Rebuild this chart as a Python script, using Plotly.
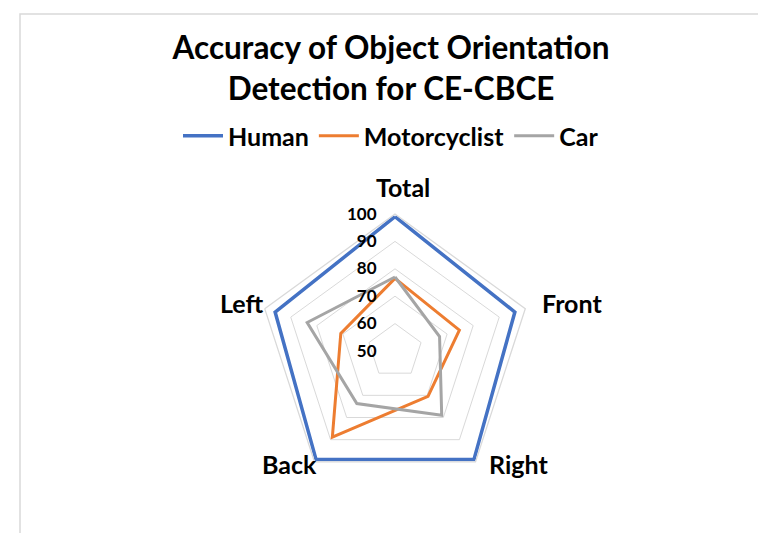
import math
import plotly.graph_objects as go

categories = ["Total", "Front", "Right", "Back", "Left"]
human = [99, 96, 99, 99, 96]
motorcyclist = [76.5, 74.7, 70.5, 88.9, 70.8]
car = [77, 67.1, 79, 73.7, 83.7]
radial_ticks = [50, 60, 70, 80, 90, 100]

series = [("Human", human, "#4472C4", 3.5),
          ("Motorcyclist", motorcyclist, "#ED7D31", 3),
          ("Car", car, "#A5A5A5", 3)]

FONT = "Lato, Carlito, Calibri, sans-serif"

fig = go.Figure()
for name, vals, color, w in series:
    fig.add_trace(go.Scatterpolar(
        r=vals + vals[:1], theta=categories + categories[:1],
        mode="lines", name=name,
        line=dict(color=color, width=w),
    ))

W, H = 766, 533
# target geometry (pixels) of the radar in the picture
cx, cy, R = 395, 349, 137
# empirical correction of plotly's placement of the polar domain
dx, dy = -8, -6
pcx, pcy = cx + dx, cy + dy

# category labels placed next to the outer polygon corners
label_specs = {0: dict(xanchor="center", yanchor="bottom", ox=0, oy=-16),
               1: dict(xanchor="left", yanchor="middle", ox=7, oy=-12),
               2: dict(xanchor="left", yanchor="middle", ox=3, oy=-4),
               3: dict(xanchor="right", yanchor="middle", ox=-3, oy=-4),
               4: dict(xanchor="right", yanchor="middle", ox=-7, oy=-12)}
annotations = []
n = len(categories)
for i, cat in enumerate(categories):
    th = 2 * math.pi * i / n
    vx = cx + R * math.sin(th)
    vy = cy - R * math.cos(th)
    s = label_specs[i]
    annotations.append(dict(
        text="<b>%s</b>" % cat, showarrow=False, xref="paper", yref="paper",
        x=(vx + s["ox"]) / W, y=1 - (vy + s["oy"]) / H,
        xanchor=s["xanchor"], yanchor=s["yanchor"],
        font=dict(size=25, family=FONT, color="black")))

fig.update_layout(
    width=W, height=H,
    margin=dict(l=0, r=0, t=0, b=0),
    paper_bgcolor="white",
    font=dict(family=FONT, color="black"),
    title=dict(text="<b>Accuracy of Object Orientation<br>Detection for CE-CBCE</b>",
               x=0.5, xanchor="center", y=1 - 51 / H, yanchor="middle",
               font=dict(size=31.5, family=FONT, color="black")),
    showlegend=True,
    legend=dict(orientation="h", x=0.5, xanchor="center",
                y=1 - 128 / H, yanchor="middle",
                font=dict(size=25, family=FONT, color="black", weight="bold"),
                itemwidth=40, bgcolor="rgba(0,0,0,0)"),
    polar=dict(
        domain=dict(x=[(pcx - R) / W, (pcx + R) / W],
                    y=[(H - pcy - R) / H, (H - pcy + R) / H]),
        bgcolor="white",
        gridshape="linear",
        radialaxis=dict(range=[50, 100], tickvals=radial_ticks,
                        angle=90, tickangle=90, side="counterclockwise",
                        showline=False, ticks="outside", ticklen=12,
                        tickcolor="rgba(0,0,0,0)",
                        gridcolor="#D9D9D9", gridwidth=1.3,
                        tickfont=dict(size=17, family=FONT, color="black", weight="bold")),
        angularaxis=dict(direction="clockwise", rotation=90,
                         showgrid=False, showline=True, linecolor="#D9D9D9", linewidth=1.3,
                         showticklabels=False, ticks=""),
    ),
    annotations=annotations,
    shapes=[dict(type="rect", xref="paper", yref="paper",
                 x0=12 / W, x1=1.2, y0=-0.2, y1=1 - 6 / H,
                 line=dict(color="#D9D9D9", width=1.5), fillcolor="rgba(0,0,0,0)",
                 layer="below")],
)

fig.write_html("out.html")
